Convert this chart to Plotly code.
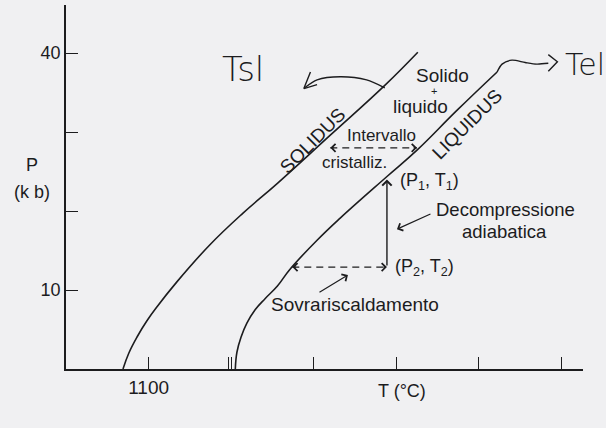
import plotly.graph_objects as go

# --- phase-diagram data: temperature (°C) vs pressure (kbar) ---
solidus_T = [1069, 1076, 1086, 1098, 1110, 1134, 1174, 1214, 1256, 1320, 1386, 1426]
solidus_P = [0.0, 2.0, 4.05, 6.1, 7.85, 11.0, 15.7, 19.7, 23.5, 29.6, 35.9, 40.1]

liquidus_T = [1205, 1207, 1212, 1219, 1229, 1241, 1256, 1271, 1304, 1332, 1389, 1425, 1473, 1522]
liquidus_P = [0.0, 2.15, 4.05, 5.8, 7.5, 8.9, 10.5, 12.6, 16.3, 19.1, 24.4, 27.7, 32.7, 37.6]

# hand-drawn pointers at the top ends of the two curves
tsl_arrow_T = [1386, 1364, 1332, 1304, 1289]
tsl_arrow_P = [35.6, 36.6, 37.0, 36.6, 35.6]
tsl_head_T = [1296, 1288, 1304]
tsl_head_P = [37.6, 35.5, 36.0]

tel_arrow_T = [1522, 1528, 1540, 1556, 1570, 1584]
tel_arrow_P = [37.6, 38.6, 39.1, 38.8, 38.6, 38.7]
tel_head_T = [1584, 1595, 1584]
tel_head_P = [39.8, 38.9, 37.7]

# decompression path (P1,T1) -> (P2,T2) and the two temperature intervals
T_path = 1388.6
P1, P2 = 24.0, 12.9
cryst_T = [1320, 1425]
cryst_P = 28.0
superheat_T = [1274, 1388.6]

x_ticks = [1100, 1200, 1300, 1400, 1500, 1600]
x_ticktext = ["1100", "", "", "", "", ""]
y_ticks = [10, 20, 30, 40]
y_ticktext = ["10", "", "", "40"]

INK = "#1c1c1e"
BG = "#f0f0f2"
FONT = "Liberation Sans, Arial, sans-serif"
HAND = "DejaVu Sans, sans-serif"

fig = go.Figure()

line_style = dict(color=INK, width=1.6)
fig.add_trace(go.Scatter(x=solidus_T, y=solidus_P, mode="lines",
                         line=dict(shape="spline", smoothing=1.2, **line_style)))
fig.add_trace(go.Scatter(x=liquidus_T, y=liquidus_P, mode="lines",
                         line=dict(shape="spline", smoothing=1.2, **line_style)))

thin = dict(color=INK, width=1.4)
for xs, ys in [(tsl_arrow_T, tsl_arrow_P), (tel_arrow_T, tel_arrow_P)]:
    fig.add_trace(go.Scatter(x=xs, y=ys, mode="lines",
                             line=dict(shape="spline", smoothing=0.8, **thin)))
for xs, ys in [(tsl_head_T, tsl_head_P), (tel_head_T, tel_head_P)]:
    fig.add_trace(go.Scatter(x=xs, y=ys, mode="lines", line=thin))

# dashed horizontal intervals
dash = dict(color=INK, width=1.3, dash="7px,5px")
fig.add_trace(go.Scatter(x=cryst_T, y=[cryst_P, cryst_P], mode="lines", line=dash))
fig.add_trace(go.Scatter(x=superheat_T, y=[P2, P2], mode="lines", line=dash))

ann = []


def arrow(tip, tail, head=4, size=1.3, width=1.2):
    ann.append(dict(x=tip[0], y=tip[1], ax=tail[0], ay=tail[1],
                    xref="x", yref="y", axref="x", ayref="y", text="",
                    showarrow=True, arrowhead=head, arrowsize=size,
                    arrowwidth=width, arrowcolor=INK))


# vertical adiabatic decompression arrow
arrow((T_path, P1), (T_path, P2), width=1.4)
# short heads on the dashed intervals
arrow((cryst_T[0], cryst_P), (cryst_T[0] + 6, cryst_P))
arrow((cryst_T[1], cryst_P), (cryst_T[1] - 6, cryst_P))
arrow((superheat_T[0], P2), (superheat_T[0] + 6, P2))
arrow((superheat_T[1], P2), (superheat_T[1] - 6, P2))
# pointer arrows from the labels
arrow((1400.7, 17.7), (1443.1, 19.7))
arrow((1341.4, 11.9), (1305.1, 9.6))


def label(x, y, text, size=19, angle=0, font=FONT, xanchor="center", weight=None):
    f = dict(family=font, size=size, color=INK)
    if weight:
        f["weight"] = weight
    ann.append(dict(x=x, y=y, xref="x", yref="y", text=text, showarrow=False,
                    textangle=angle, xanchor=xanchor, yanchor="middle", font=f))


label(1299, 28.9, "SOLIDUS", size=19, angle=-45)
label(1485, 31.0, "LIQUIDUS", size=19, angle=-45)
label(1456.4, 37.2, "Solido")
label(1445.5, 35.2, "+", size=11)
label(1429.8, 33.2, "liquido")
label(1382.6, 29.6, "Intervallo", size=17)
label(1349.9, 26.1, "cristalliz.", size=17)
label(1440.7, 23.7, "(P<sub>1</sub>, T<sub>1</sub>)", size=18)
label(1434.6, 12.8, "(P<sub>2</sub>, T<sub>2</sub>)", size=18)
label(1532.7, 20.15, "Decompressione", size=18.5)
label(1531.5, 17.45, "adiabatica", size=18.5)
label(1349.5, 8.2, "Sovrariscaldamento")
label(1214.3, 38.0, "Tsl", size=34, font=HAND, weight=200)
label(1601.7, 38.6, "Tel", size=30, font=HAND, xanchor="left", weight=200)

# axis titles
ann.append(dict(x=0.650, y=-0.060, xref="paper", yref="paper", text="T (°C)",
                showarrow=False, xanchor="center", yanchor="middle",
                font=dict(family=FONT, size=18, color=INK)))
ann.append(dict(x=-0.066, y=0.560, xref="paper", yref="paper", text="P",
                showarrow=False, xanchor="center", yanchor="middle",
                font=dict(family=FONT, size=18, color=INK)))
ann.append(dict(x=-0.066, y=0.486, xref="paper", yref="paper", text="(k b)",
                showarrow=False, xanchor="center", yanchor="middle",
                font=dict(family=FONT, size=18, color=INK)))

fig.update_layout(
    width=606, height=428,
    margin=dict(l=66, r=23, t=5, b=59),
    paper_bgcolor=BG, plot_bgcolor=BG,
    showlegend=False,
    annotations=ann,
    font=dict(family=FONT, color=INK),
)
fig.update_xaxes(range=[1000, 1626], showgrid=False, zeroline=False,
                 showline=True, linecolor=INK, linewidth=1.5,
                 ticks="inside", ticklen=12, tickwidth=1.4, tickcolor=INK,
                 tickvals=x_ticks, ticktext=x_ticktext,
                 tickfont=dict(size=19, family=FONT, color=INK),
                 minor=dict(ticks="inside", ticklen=12, tickwidth=1.4,
                            tickcolor=INK, tick0=1196.5, dtick=1000,
                            showgrid=False))
fig.update_yaxes(range=[0, 46.08], showgrid=False, zeroline=False,
                 showline=True, linecolor=INK, linewidth=1.5,
                 ticks="inside", ticklen=12, tickwidth=1.4, tickcolor=INK,
                 tickvals=y_ticks, ticktext=y_ticktext,
                 tickfont=dict(size=18, family=FONT, color=INK))

fig.write_html("out.html")
